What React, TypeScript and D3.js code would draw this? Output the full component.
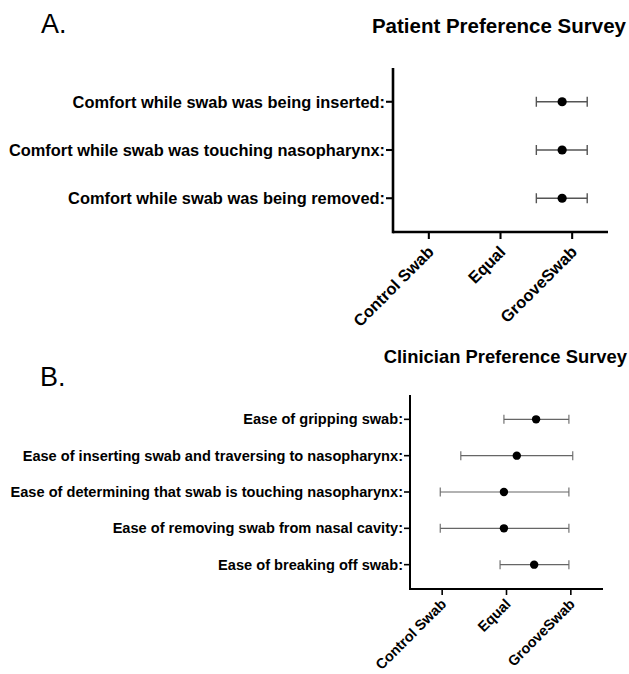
import React from "react";
import * as d3 from "d3";

const xTickLabels = ["Control Swab", "Equal", "GrooveSwab"];
const xTickValues = [1, 2, 3];

const categoriesA = [
  "Comfort while swab was being inserted:",
  "Comfort while swab was touching nasopharynx:",
  "Comfort while swab was being removed:",
];
const meanA = [2.86, 2.86, 2.86];
const lowA = [2.5, 2.5, 2.5];
const highA = [3.21, 3.21, 3.21];

const categoriesB = [
  "Ease of gripping swab:",
  "Ease of inserting swab and traversing to nasopharynx:",
  "Ease of determining that swab is touching nasopharynx:",
  "Ease of removing swab from nasal cavity:",
  "Ease of breaking off swab:",
];
const meanB = [2.46, 2.16, 1.96, 1.96, 2.43];
const lowB = [1.96, 1.29, 0.97, 0.97, 1.9];
const highB = [2.97, 3.03, 2.97, 2.97, 2.97];

const FONT = "'Liberation Sans', Arial, Helvetica, sans-serif";

type PanelProps = {
  cats: string[];
  mean: number[];
  low: number[];
  high: number[];
  x0: number;
  x1: number;
  y0: number;
  y1: number;
  yPad: number;
  labelSize: number;
  tickFont: number;
  axisW: number;
  tickLen: number;
  r: number;
  capH: number;
  errColor: string;
  errW: number;
  lblDx: number;
  lblDy: number;
};

function Panel(p: PanelProps) {
  const x = d3.scaleLinear().domain([0.5, 3.5]).range([p.x0, p.x1]);
  const n = p.cats.length;
  const y = d3
    .scaleLinear()
    .domain([-p.yPad, n - 1 + p.yPad])
    .range([p.y0, p.y1]);
  return (
    <g>
      <line x1={p.x0} x2={p.x0} y1={p.y0} y2={p.y1 + p.axisW / 2} stroke="#000" strokeWidth={p.axisW} />
      <line x1={p.x0} x2={p.x1} y1={p.y1} y2={p.y1} stroke="#000" strokeWidth={p.axisW} />
      {p.cats.map((c, i) => (
        <g key={c}>
          <line x1={p.x0 - p.tickLen} x2={p.x0} y1={y(i)} y2={y(i)} stroke="#000" strokeWidth={p.axisW * 0.8} />
          <text
            x={p.x0 - p.tickLen - 1}
            y={y(i)}
            dy="0.35em"
            textAnchor="end"
            fontFamily={FONT}
            fontWeight="bold"
            fontSize={p.labelSize}
          >
            {c}
          </text>
        </g>
      ))}
      {xTickValues.map((v, i) => (
        <g key={v}>
          <line x1={x(v)} x2={x(v)} y1={p.y1} y2={p.y1 + p.tickLen} stroke="#000" strokeWidth={p.axisW * 0.8} />
          <text
            transform={`translate(${x(v) + p.lblDx},${p.y1 + p.lblDy}) rotate(-45)`}
            textAnchor="end"
            fontFamily={FONT}
            fontWeight="bold"
            fontSize={p.tickFont}
          >
            {xTickLabels[i]}
          </text>
        </g>
      ))}
      {p.cats.map((c, i) => (
        <g key={"e" + i}>
          <line x1={x(p.low[i])} x2={x(p.high[i])} y1={y(i)} y2={y(i)} stroke={p.errColor} strokeWidth={p.errW} />
          <line x1={x(p.low[i])} x2={x(p.low[i])} y1={y(i) - p.capH} y2={y(i) + p.capH} stroke={p.errColor} strokeWidth={p.errW} />
          <line x1={x(p.high[i])} x2={x(p.high[i])} y1={y(i) - p.capH} y2={y(i) + p.capH} stroke={p.errColor} strokeWidth={p.errW} />
          <circle cx={x(p.mean[i])} cy={y(i)} r={p.r} fill="#000" />
        </g>
      ))}
    </g>
  );
}

export default function App() {
  return (
    <svg
      width={629}
      height={674}
      style={{ position: "absolute", left: 0, top: 0, background: "#fff" }}
    >
      <rect width={629} height={674} fill="#fff" />
      <text x={41} y={33} fontFamily={FONT} fontSize={27}>A.</text>
      <text x={626} y={33} textAnchor="end" fontFamily={FONT} fontWeight="bold" fontSize={20.5}>
        Patient Preference Survey
      </text>
      <Panel
        cats={categoriesA}
        mean={meanA}
        low={lowA}
        high={highA}
        x0={393}
        x1={608}
        y0={68}
        y1={232}
        yPad={0.7}
        labelSize={16.4}
        tickFont={16.4}
        axisW={2.6}
        tickLen={7}
        r={4.6}
        capH={5}
        errColor="#555"
        errW={1.4}
        lblDx={6}
        lblDy={21}
      />
      <text x={40} y={386} fontFamily={FONT} fontSize={27}>B.</text>
      <text x={627} y={363} textAnchor="end" fontFamily={FONT} fontWeight="bold" fontSize={18.4}>
        Clinician Preference Survey
      </text>
      <Panel
        cats={categoriesB}
        mean={meanB}
        low={lowB}
        high={highB}
        x0={410}
        x1={603}
        y0={395}
        y1={589}
        yPad={0.67}
        labelSize={14.6}
        tickFont={14.4}
        axisW={2}
        tickLen={6}
        r={4.2}
        capH={4.5}
        errColor="#666"
        errW={1.1}
        lblDx={5}
        lblDy={16}
      />
    </svg>
  );
}
